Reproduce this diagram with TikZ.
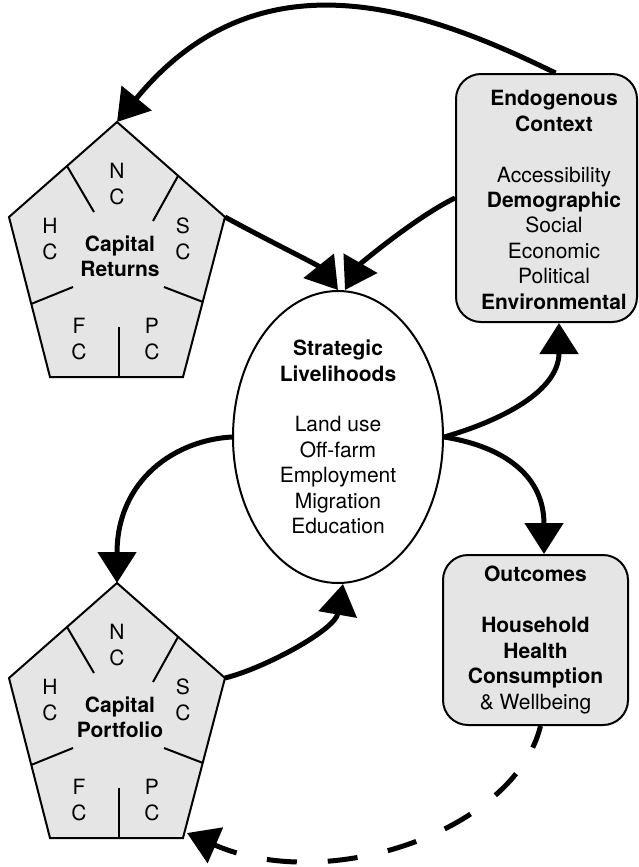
\documentclass[tikz,border=0pt]{standalone}
\usepackage{fontspec}
\setmainfont{TeX Gyre Heros}
\usetikzlibrary{arrows.meta,shapes.geometric}
\begin{document}
\begin{tikzpicture}[x=1pt,y=-1pt,
  every node/.style={font=\fontsize{21}{25.4}\selectfont, align=center, inner sep=0pt},
  panel/.style={draw, line width=2pt, fill=gray!20},
  divider/.style={line width=2pt},
  flow/.style={line width=5pt, -{Triangle[length=31pt,width=38pt]}},
  feedback/.style={flow, dash pattern=on 30pt off 31pt, dash phase=7pt},
  pics/capital/.style={code={
    \path[panel] (0,0) -- (108,95) -- (66,255) -- (-67,255) -- (-108,95) -- cycle;
    \coordinate (-top) at (0,0);
    \coordinate (-right) at (108,95);
    \coordinate (-br) at (66,255);
    \draw[divider] (-50,44) -- (-23,90);
    \draw[divider] (61,54) -- (36,99);
    \draw[divider] (-86,182) -- (-44,165);
    \draw[divider] (86,180) -- (47,165);
    \draw[divider] (2,255) -- (2,205);
    \node (-n) at (0,62) {N\\C};
    \node (-h) at (-67,117) {H\\C};
    \node (-s) at (66,117) {S\\C};
    \node (-f) at (-38,217) {F\\C};
    \node (-p) at (35,217) {P\\C};
    \node (-t) at (3,134) {\textbf{Capital}\\\textbf{#1}};
  }}
]
\useasboundingbox (0,0) rectangle (638,867);

% capital pentagons
\pic (CR) at (117,122) {capital=Returns};
\pic (CP) at (117,583) {capital=Portfolio};

% strategic livelihoods
\node[ellipse, draw, line width=2pt, minimum width=210pt, minimum height=292pt] (SL) at (338,437)
  {\textbf{Strategic}\\\textbf{Livelihoods}\\[25.4pt]Land use\\Off-farm\\Employment\\Migration\\Education};

% endogenous context
\node[panel, rounded corners=25pt, minimum width=181pt, minimum height=248pt] (ECbox) at (546.5,198) {};
\node (EC) at (554,200)
  {\textbf{Endogenous}\\\textbf{Context}\\[25.4pt]Accessibility\\\textbf{Demographic}\\Social\\Economic\\Political\\\textbf{Environmental}};

% outcomes
\node[panel, rounded corners=25pt, minimum width=185pt, minimum height=170pt] (OC) at (535.5,640)
  {\textbf{Outcomes}\\[25.4pt]\textbf{Household}\\\textbf{Health}\\\textbf{Consumption}\\\& Wellbeing};

% connectors
\draw[flow] ([xshift=9pt]ECbox.north) .. controls (424,8.5) and (259,-51) .. (CR-top);
\draw[flow] (CR-right) .. controls (265,239) and (318,265) .. (SL.north);
\draw[flow] (ECbox.west) .. controls (416,217) and (360,264) .. ([xshift=7pt]SL.north);
\draw[flow] (SL.east) .. controls (490,424) and (559,395) .. ([xshift=12.5pt]ECbox.south);
\draw[flow] (SL.east) .. controls (495,445) and (544,470) .. ([xshift=8.5pt]OC.north);
\draw[flow] (SL.west) .. controls (175,440) and (117,480) .. (CP-top);
\draw[flow] (CP-right) .. controls (265,668) and (335,630) .. ([xshift=5pt]SL.south);
\draw[feedback] ([xshift=5pt]OC.south) .. controls (515,830) and (330,895) .. ([xshift=4pt,yshift=5pt]CP-br);
\end{tikzpicture}
\end{document}
